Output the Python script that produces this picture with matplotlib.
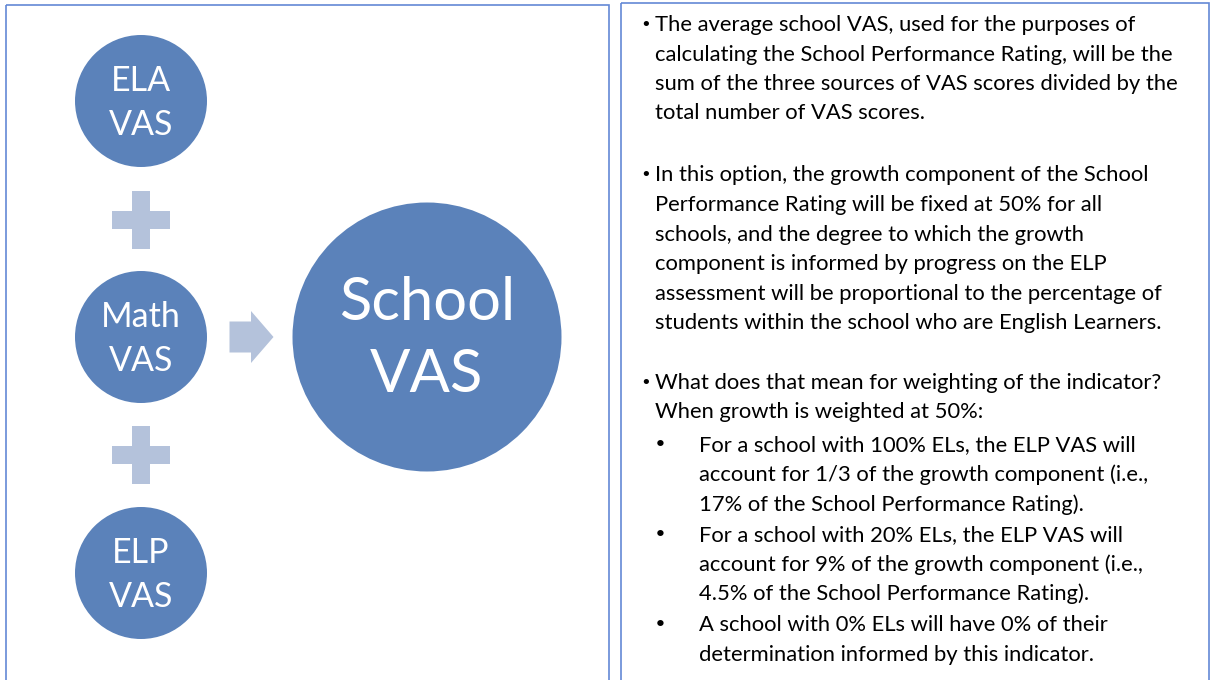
import matplotlib
matplotlib.use('Agg')
import matplotlib.pyplot as plt
from matplotlib.patches import Circle, Rectangle, Polygon

plt.rcParams['font.family'] = ['Lato', 'DejaVu Sans']

# circle labels (left diagram)
source_labels = ['ELA\nVAS', 'Math\nVAS', 'ELP\nVAS']
result_label = 'School\nVAS'

# right-hand text: (kind, text) ; kind 'b' = main bullet, 'c' = continuation, 's' = sub bullet, 't' = sub continuation
para1 = [('b', 'The average school VAS, used for the purposes of'),
         ('c', 'calculating the School Performance Rating, will be the'),
         ('c', 'sum of the three sources of VAS scores divided by the'),
         ('c', 'total number of VAS scores.')]
para2 = [('b', 'In this option, the growth component of the School'),
         ('c', 'Performance Rating will be fixed at 50% for all'),
         ('c', 'schools, and the degree to which the growth'),
         ('c', 'component is informed by progress on the ELP'),
         ('c', 'assessment will be proportional to the percentage of'),
         ('c', 'students within the school who are English Learners.')]
para3 = [('b', 'What does that mean for weighting of the indicator?'),
         ('c', 'When growth is weighted at 50%:'),
         ('s', 'For a school with 100% ELs, the ELP VAS will'),
         ('t', 'account for 1/3 of the growth component (i.e.,'),
         ('t', '17% of the School Performance Rating).'),
         ('s', 'For a school with 20% ELs, the ELP VAS will'),
         ('t', 'account for 9% of the growth component (i.e.,'),
         ('t', '4.5% of the School Performance Rating).'),
         ('s', 'A school with 0% ELs will have 0% of their'),
         ('t', 'determination informed by this indicator.')]
baselines1 = [31, 61, 90, 119]
baselines2 = [181, 211, 241, 270, 300, 329]
baselines3 = [389, 418, 451, 481, 511, 541, 571, 600, 631, 661]

circle_col = '#5B82BA'
light_col = '#B4C2DB'
border_col = '#6489D6'

fig = plt.figure(figsize=(12.11, 6.8), dpi=100)
ax = fig.add_axes([0, 0, 1, 1])
ax.set_xlim(0, 1211)
ax.set_ylim(680, 0)
ax.axis('off')

# boxes
ax.add_patch(Rectangle((5.5, 4.5), 603.5, 700, fill=False, ec=border_col, lw=1.2))
ax.add_patch(Rectangle((621, 3), 588, 700, fill=False, ec=border_col, lw=1.2))

# small circles
cx, r_small = 141, 66
cys = [101, 337, 573]
for cy, lab in zip(cys, source_labels):
    ax.add_patch(Circle((cx, cy), r_small, fc=circle_col, ec='none'))
    l1, l2 = lab.split('\n')
    ax.text(cx, cy - 10, l1, color='white', fontsize=24.5, ha='center', va='baseline')
    ax.text(cx, cy + 34, l2, color='white', fontsize=24.5, ha='center', va='baseline')

# plus signs
for py in [(cys[0] + cys[1]) / 2 + 0.5, (cys[1] + cys[2]) / 2 - 0.5]:
    ax.add_patch(Rectangle((cx - 9, py - 29), 18, 58, fc=light_col, ec='none'))
    ax.add_patch(Rectangle((cx - 29, py - 9), 58, 18, fc=light_col, ec='none'))

# arrow
ay = cys[1]
ax.add_patch(Polygon([(229.5, ay - 15.5), (251, ay - 15.5), (251, ay - 26), (273.5, ay),
                      (251, ay + 26), (251, ay + 15.5), (229.5, ay + 15.5)],
                     fc=light_col, ec='none'))

# big circle
bx, r_big = 427, 134.5
ax.add_patch(Circle((bx, ay), r_big, fc=circle_col, ec='none'))
l1, l2 = result_label.split('\n')
ax.text(bx, ay - 17, l1, color='white', fontsize=43, ha='center', va='baseline')
ax.text(bx, ay + 55, l2, color='white', fontsize=43, ha='center', va='baseline')

# right text
fs = 15.8
for lines, ys in [(para1, baselines1), (para2, baselines2), (para3, baselines3)]:
    for (kind, txt), y in zip(lines, ys):
        if kind == 'b':
            ax.text(640, y - 1, '\u2022', fontsize=13, ha='left', va='baseline', family='DejaVu Sans')
            ax.text(655, y, txt, fontsize=fs, ha='left', va='baseline')
        elif kind == 'c':
            ax.text(655, y, txt, fontsize=fs, ha='left', va='baseline')
        elif kind == 's':
            ax.text(654, y, '\u2022', fontsize=fs, ha='left', va='baseline', family='DejaVu Sans')
            ax.text(699, y, txt, fontsize=fs, ha='left', va='baseline')
        else:
            ax.text(699, y, txt, fontsize=fs, ha='left', va='baseline')

fig.savefig('out.png', dpi=100)
